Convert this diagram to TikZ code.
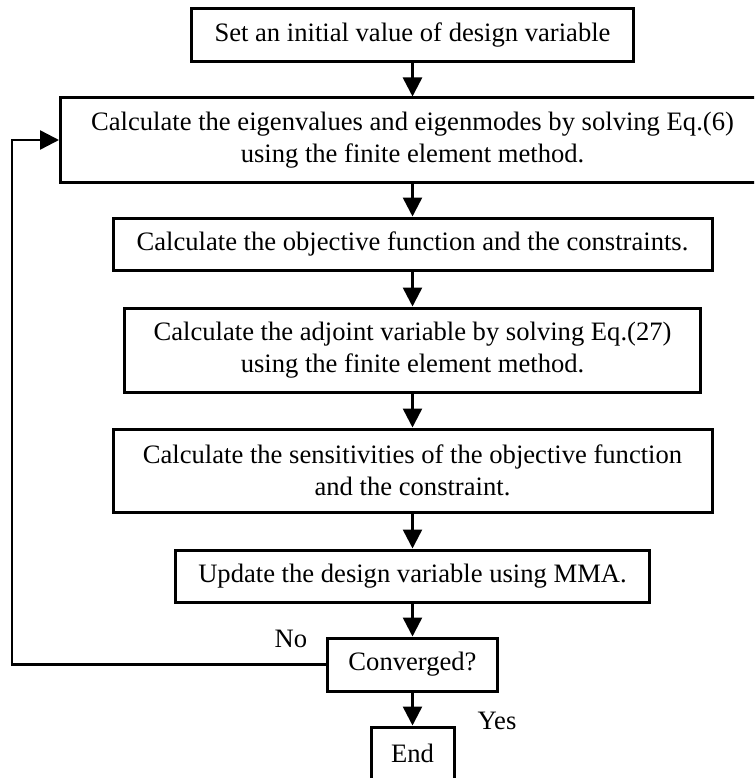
\documentclass[tikz,border=0pt]{standalone}
\usepackage{fontspec}
\setmainfont{Liberation Serif}
\usetikzlibrary{arrows.meta}
\tikzset{
  txt/.style={font=\fontsize{26.6}{32.5}\selectfont},
  stepbox/.style={draw, line width=3pt, inner sep=0pt, align=center, txt},
  flow/.style={line width=2.5pt, -{Triangle[width=19pt,length=19pt]}},
  lbl/.style={inner sep=0pt, txt}
}
\begin{document}
\begin{tikzpicture}[x=1pt, y=-1pt]
  \fill[white] (0,0) rectangle (754,778);
  \useasboundingbox (0,0) rectangle (754,778);
  \clip (0,0) rectangle (754,778);

  % process steps, all centred on one vertical axis
  \node[stepbox, minimum width=442pt, minimum height=53pt] (b1) at (412.5,35.5)
    {Set an initial value of design variable};
  \node[stepbox, minimum width=704pt, minimum height=84pt] (b2) at (412.5,140)
    {Calculate the eigenvalues and eigenmodes by solving Eq.(6)\\using the finite element method.};
  \node[stepbox, minimum width=599pt, minimum height=52pt] (b3) at (412.5,244)
    {Calculate the objective function and the constraints.};
  \node[stepbox, minimum width=576pt, minimum height=84pt] (b4) at (412.5,350)
    {Calculate the adjoint variable by solving Eq.(27)\\using the finite element method.};
  \node[stepbox, minimum width=599pt, minimum height=83pt] (b5) at (412.5,470.5)
    {Calculate the sensitivities of the objective function\\and the constraint.};
  \node[stepbox, minimum width=474pt, minimum height=52pt] (b6) at (412.5,576)
    {Update the design variable using MMA.};
  \node[stepbox, minimum width=170pt, minimum height=53pt] (b7) at (412.5,664.5)
    {Converged?};
  \node[stepbox, minimum width=83pt, minimum height=53pt] (b8) at (412.5,753.5)
    {End};

  % branch labels
  \node[lbl] (no) at (291,638.5) {No};
  \node[lbl] (yes) at (497,721) {Yes};

  % main flow
  \draw[flow] (b1.south) -- (b2.north);
  \draw[flow] (b2.south) -- (b3.north);
  \draw[flow] (b3.south) -- (b4.north);
  \draw[flow] (b4.south) -- (b5.north);
  \draw[flow] (b5.south) -- (b6.north);
  \draw[flow] (b6.south) -- (b7.north);
  \draw[flow] (b7.south) -- (b8.north);

  % feedback loop back to the analysis step
  \coordinate (lx) at (12,0);
  \draw[flow] (b7.west) -- (b7.west -| lx) |- (b2.west);
\end{tikzpicture}
\end{document}
